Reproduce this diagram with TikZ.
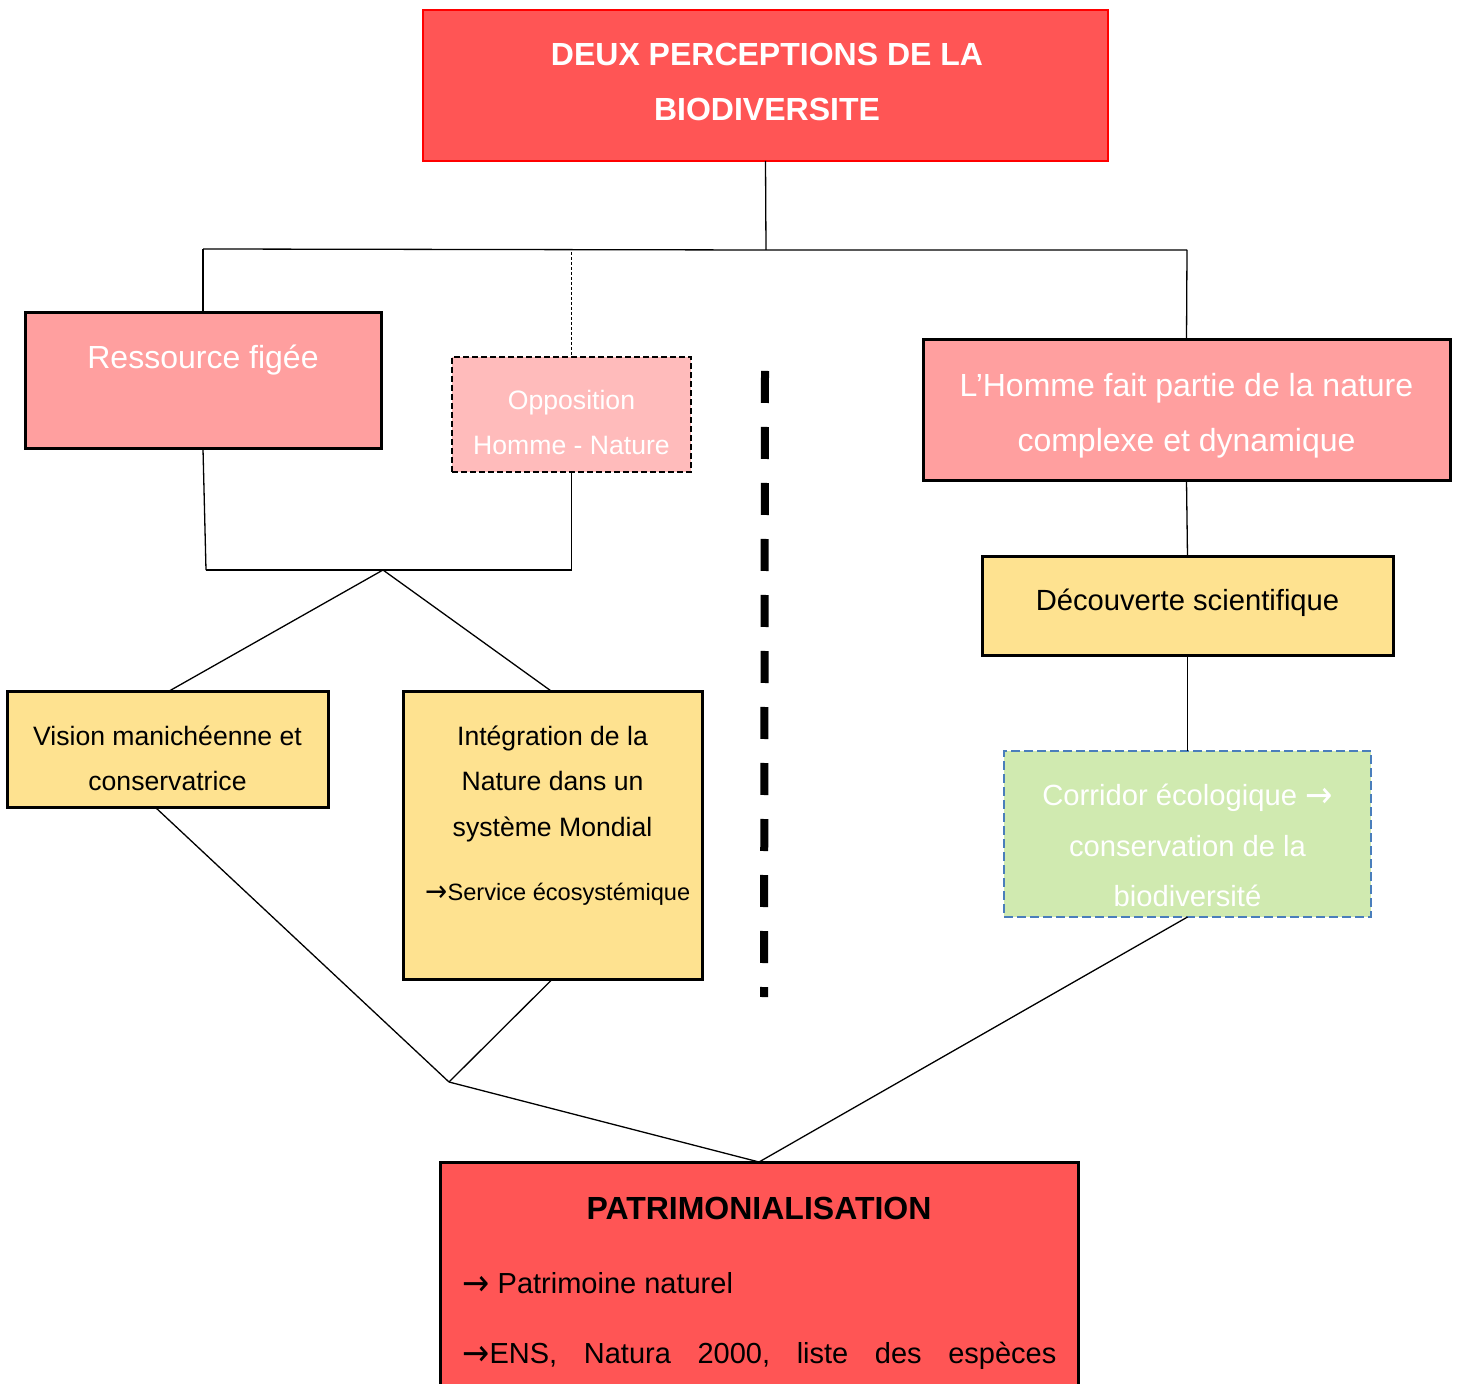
\documentclass[tikz,border=0pt]{standalone}
\usepackage{fontspec}
\usepackage{graphicx}
\setmainfont{Liberation Sans}
\newfontfamily\arrowfont{DejaVu Sans}
\newcommand{\arw}{{\arrowfont\raisebox{-0.07em}{\scalebox{1.12}[1.25]{→}}}}
\usetikzlibrary{calc}
\definecolor{topred}{HTML}{FF5555}
\definecolor{topborder}{HTML}{FF0000}
\definecolor{pinkbox}{HTML}{FF9F9F}
\definecolor{lightpink}{HTML}{FFBBBB}
\definecolor{yellowbox}{HTML}{FEE290}
\definecolor{greenbox}{HTML}{D0EAB0}
\definecolor{bluedash}{HTML}{4A7EBB}
\tikzset{
  box/.style={draw=black, line width=1.5pt, inner sep=0pt, outer sep=0pt},
  link/.style={draw=black, line width=0.65pt},
  wtxt/.style={text=white, inner sep=0pt, anchor=base},
  btxt/.style={text=black, inner sep=0pt, anchor=base},
}
\begin{document}
\begin{tikzpicture}[x=0.5pt,y=-0.5pt]
\fill[white] (0,0) rectangle (1461,1384);
\clip (0,0) rectangle (1461,1384);

% boxes
\node[box, draw=topborder, line width=1pt, fill=topred, minimum width=342.5pt, minimum height=75.5pt] (top) at (765.5,85.5) {};
\node[box, fill=pinkbox, minimum width=178pt, minimum height=68pt] (ress) at (203,381) {};
\node[box, fill=lightpink, line width=1.25pt, dash pattern=on 3pt off 1.5pt, minimum width=119.5pt, minimum height=57.5pt] (opp) at (571.5,414.5) {};
\node[box, fill=pinkbox, minimum width=263.5pt, minimum height=70.5pt] (homme) at (1186.5,410.5) {};
\node[box, fill=yellowbox, minimum width=205.5pt, minimum height=49.5pt] (dec) at (1187.5,606.5) {};
\node[box, fill=yellowbox, minimum width=160.5pt, minimum height=57.5pt] (vis) at (167.5,749.5) {};
\node[box, fill=yellowbox, minimum width=149.5pt, minimum height=143.5pt] (integ) at (552.5,835.5) {};
\node[box, fill=greenbox, draw=bluedash, line width=1.25pt, dash pattern=on 4.5pt off 2pt, minimum width=183.5pt, minimum height=83pt] (corr) at (1187.5,834) {};
\node[box, fill=topred, minimum width=319pt, minimum height=124pt] (patri) at (759,1286) {};

% texts
\node[wtxt, font=\bfseries\fontsize{16}{19}\selectfont] (topA) at (767,66) {DEUX PERCEPTIONS DE LA};
\node[wtxt, font=\bfseries\fontsize{16}{19}\selectfont] (topB) at (767,121) {BIODIVERSITE};
\node[wtxt, font=\fontsize{16}{19}\selectfont] (ressA) at (203,369) {Ressource figée};
\node[wtxt, font=\fontsize{13.3}{16}\selectfont] (oppA) at (571.5,410) {Opposition};
\node[wtxt, font=\fontsize{13.3}{16}\selectfont] (oppB) at (571.5,455) {Homme - Nature};
\node[wtxt, font=\fontsize{16}{19}\selectfont] (hommeA) at (1186.5,397) {L’Homme fait partie de la nature};
\node[wtxt, font=\fontsize{16}{19}\selectfont] (hommeB) at (1186.5,452) {complexe et dynamique};
\node[btxt, font=\fontsize{14.6}{17}\selectfont] (decA) at (1187.5,611) {Découverte scientifique};
\node[btxt, font=\fontsize{13.3}{16}\selectfont] (visA) at (167.5,745) {Vision manichéenne et};
\node[btxt, font=\fontsize{13.3}{16}\selectfont] (visB) at (167.5,790) {conservatrice};
\node[btxt, font=\fontsize{13.3}{16}\selectfont] (intA) at (552.5,745) {Intégration de la};
\node[btxt, font=\fontsize{13.3}{16}\selectfont] (intB) at (552.5,790) {Nature dans un};
\node[btxt, font=\fontsize{13.3}{16}\selectfont] (intC) at (552.5,836) {système Mondial};
\node[btxt, anchor=base west, font=\fontsize{11.8}{14}\selectfont] (intD) at (425,900) {\arw Service écosystémique};
\node[wtxt, font=\fontsize{14.6}{17}\selectfont] (corrA) at (1187.5,805) {Corridor écologique \arw};
\node[wtxt, font=\fontsize{14.6}{17}\selectfont] (corrB) at (1187.5,856) {conservation de la};
\node[wtxt, font=\fontsize{14.6}{17}\selectfont] (corrC) at (1187.5,906) {biodiversité};
\node[btxt, font=\bfseries\fontsize{16}{19}\selectfont] (patA) at (759,1219) {PATRIMONIALISATION};
\node[btxt, anchor=base west, font=\fontsize{14.5}{17}\selectfont] (patB) at (462,1293) {\arw{} Patrimoine naturel};
\node[btxt, anchor=base west, font=\fontsize{14.5}{17}\selectfont] (patC) at (462,1363) {\makebox[297pt][l]{\arw ENS,\hfill Natura\hfill 2000,\hfill liste\hfill des\hfill espèces}};

% coordinates
\coordinate (tj) at (766,250);
\coordinate (hl) at (203,249);
\coordinate (hr) at (1187,250);
\coordinate (dtop) at (571.5,252);
\coordinate (bl) at (206,570);
\coordinate (br) at (571.5,570);
\coordinate (j1) at (383,570);
\coordinate (j2) at (449,1082);
\coordinate (vb) at ([xshift=-6.25pt]vis.south);
\coordinate (s1) at (765,371);
\coordinate (s2) at (764,997);

% connectors
\draw[link] (top.south) -- (tj);
\draw[link] (hl) -- (tj) -- (hr);
\draw[link] (hl) -- (ress.north);
\draw[link] (hr) -- (homme.north);
\draw[black, line width=0.5pt, dash pattern=on 1.5pt off 1pt] (dtop) -- (opp.north);
\draw[link] (ress.south) -- (bl);
\draw[link] (opp.south) -- (br);
\draw[link] (bl) -- (br);
\draw[link] (j1) -- (vis.north);
\draw[link] (j1) -- (integ.north);
\draw[link] (vb) -- (j2);
\draw[link] (integ.south) -- (j2);
\draw[link] (j2) -- (patri.north);
\draw[link] (corr.south) -- (patri.north);
\draw[link] (homme.south) -- (dec.north);
\draw[link] (dec.south) -- (corr.north);
\draw[black, line width=4pt, dash pattern=on 16pt off 12pt] (s1) -- (s2);
\end{tikzpicture}
\end{document}
